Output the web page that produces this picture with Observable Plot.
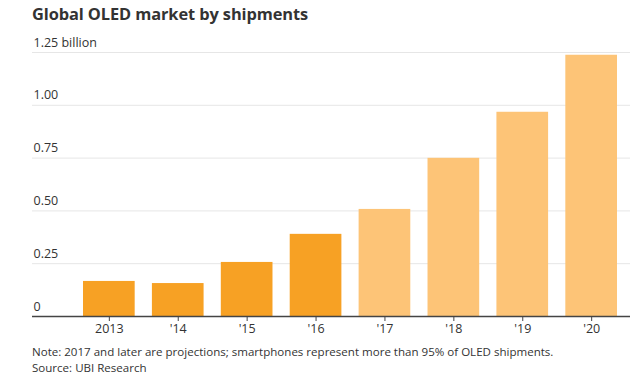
<!DOCTYPE html>
<html>
<head>
<meta charset="utf-8">
<script src="https://cdn.jsdelivr.net/npm/d3@7"></script>
<script src="https://cdn.jsdelivr.net/npm/@observablehq/plot@0.6"></script>
<style>
  html, body { margin: 0; padding: 0; background: #fff; }
  body { width: 640px; height: 385px; overflow: hidden; font-family: "Open Sans", "Noto Sans", sans-serif; }
  #title { position: absolute; left: 32px; top: 2px; font-size: 16.4px; font-weight: 700; color: #333; letter-spacing: -0.1px; }
  #chart { position: absolute; left: 0; top: 30px; }
  #notes { position: absolute; left: 32px; top: 344px; font-size: 11.55px; line-height: 16px; color: #333; }
</style>
</head>
<body>
<div id="title">Global OLED market by shipments</div>
<div id="chart"></div>
<div id="notes">Note: 2017 and later are projections; smartphones represent more than 95% of OLED shipments.<br>Source: UBI Research</div>
<script>
const years = ["2013", "'14", "'15", "'16", "'17", "'18", "'19", "'20"];
const shipments = [0.166, 0.156, 0.256, 0.389, 0.507, 0.749, 0.967, 1.237];
const projected = [false, false, false, false, true, true, true, true];
const yTicks = [0, 0.25, 0.5, 0.75, 1.0, 1.25];
const yTickLabels = ["0", "0.25", "0.50", "0.75", "1.00", "1.25 billion"];

const data = years.map((y, i) => ({year: y, value: shipments[i], type: projected[i] ? "Projection" : "Actual"}));
const ticks = yTicks.map((v, i) => ({v, label: yTickLabels[i]}));

const chart = Plot.plot({
  width: 640,
  height: 312,
  marginLeft: 32,
  marginRight: 10,
  marginTop: 22,
  marginBottom: 26,
  style: {fontFamily: "'Open Sans', 'Noto Sans', sans-serif", fontSize: "12px", color: "#333", background: "#fff"},
  x: {domain: years, range: [83, 617], paddingInner: 0.25, paddingOuter: 0, round: false, label: null},
  y: {domain: [0, 1.25], label: null, axis: null},
  color: {domain: ["Actual", "Projection"], range: ["#F7A124", "#FDC477"]},
  marks: [
    Plot.ruleY(yTicks.filter(d => d > 0), {stroke: "#e6e6e6", strokeWidth: 1}),
    Plot.barY(data, {x: "year", y: "value", fill: "type"}),
    Plot.ruleY([0], {stroke: "#444", strokeWidth: 1.3}),
    Plot.text(ticks, {y: "v", text: "label", frameAnchor: "left", textAnchor: "start", dx: 1, dy: -10, fill: "#333", fontSize: 12.5}),
    Plot.axisX({tickSize: 5, tickPadding: 3, stroke: "#444", fill: "#333", fontSize: 12.5, label: null})
  ]
});
document.getElementById("chart").appendChild(chart);
</script>
</body>
</html>
